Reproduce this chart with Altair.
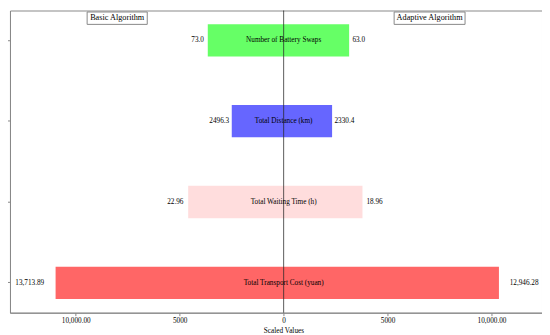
import altair as alt
import pandas as pd

categories = ["Number of Battery Swaps", "Total Distance (km)",
              "Total Waiting Time (h)", "Total Transport Cost (yuan)"]
basic_values = [73.0, 2496.3, 22.96, 13713.89]
adaptive_values = [63.0, 2330.4, 18.96, 12946.28]
scale_factors = [50, 1, 200, 0.8]
label_formats = ["{:.1f}", "{:.1f}", "{:.2f}", "{:,.2f}"]
bar_colors = ["#66ff66", "#6666ff", "#ffdddd", "#ff6666"]
x_ticks = [-10000, -5000, 0, 5000, 10000]
x_tick_labels = ["10,000.00", "5000", "0", "5000", "10,000.00"]
panel_titles = ["Basic Algorithm", "Adaptive Algorithm"]
panel_title_x = [-8008, 7021]
panel_box_half = [1446, 1706]

FONT = "Liberation Serif"
FS = 7.3

rows = []
for c, b, a, s, f, col in zip(categories, basic_values, adaptive_values,
                              scale_factors, label_formats, bar_colors):
    rows.append({"category": c, "side": "basic", "value": -b * s,
                 "label_pos": -b * s * 1.05, "label": f.format(b), "color": col})
    rows.append({"category": c, "side": "adaptive", "value": a * s,
                 "label_pos": a * s * 1.05, "label": f.format(a), "color": col})
df = pd.DataFrame(rows)
cat_df = pd.DataFrame({"category": categories, "x": [0] * len(categories)})

xmin = min(df[df.side == "basic"].value) * 1.2
xmax = max(df[df.side == "adaptive"].value) * 1.2

label_expr = ""
for v, t in zip(x_ticks, x_tick_labels):
    label_expr += f"datum.value == {v} ? '{t}' : "
label_expr += "''"

xscale = alt.Scale(domain=[xmin, xmax], nice=False, zero=False)
yscale = alt.Scale(domain=categories, paddingInner=0.6, paddingOuter=0.17)

x_enc = alt.X("value:Q", scale=xscale,
              axis=alt.Axis(values=x_ticks, labelExpr=label_expr, title="Scaled Values",
                            titleX=276, titlePadding=3, grid=False))
y_enc = alt.Y("category:N", scale=yscale,
              axis=alt.Axis(labels=False, title=None, ticks=True, grid=False))

base = alt.Chart(df)

bars = base.mark_bar().encode(
    x=x_enc, y=y_enc, color=alt.Color("color:N", scale=None)
)

left_labels = base.transform_filter(alt.datum.side == "basic").mark_text(
    align="right", baseline="middle", font=FONT, fontSize=FS, color="black"
).encode(x=alt.X("label_pos:Q"), y=alt.Y("category:N"), text="label:N")

right_labels = base.transform_filter(alt.datum.side == "adaptive").mark_text(
    align="left", baseline="middle", font=FONT, fontSize=FS, color="black"
).encode(x=alt.X("label_pos:Q"), y=alt.Y("category:N"), text="label:N")

cat_labels = alt.Chart(cat_df).mark_text(
    align="center", baseline="middle", font=FONT, fontSize=FS, color="black"
).encode(x=alt.X("x:Q"), y=alt.Y("category:N"), text="category:N")

zero_line = alt.Chart(pd.DataFrame({"x": [0]})).mark_rule(
    color="black", opacity=0.65, strokeWidth=1
).encode(x="x:Q")

title_df = pd.DataFrame({
    "title": panel_titles,
    "cx": panel_title_x,
    "x0": [c - h for c, h in zip(panel_title_x, panel_box_half)],
    "x1": [c + h for c, h in zip(panel_title_x, panel_box_half)],
})
title_boxes = alt.Chart(title_df).mark_rect(
    fill="white", stroke="#888888", strokeWidth=1
).encode(x="x0:Q", x2="x1:Q", y=alt.value(1.5), y2=alt.value(14))
title_text = alt.Chart(title_df).mark_text(
    align="center", baseline="middle", font=FONT, fontSize=8.3, color="black"
).encode(x="cx:Q", y=alt.value(8), text="title:N")

chart = alt.layer(
    bars, cat_labels, left_labels, right_labels, zero_line, title_boxes, title_text
).properties(
    width=537, height=305,
    padding={"left": -2, "top": 0, "right": 0, "bottom": 0},
).configure_view(
    stroke="#888888", strokeWidth=1
).configure_axis(
    labelFont=FONT, labelFontSize=FS, labelColor="black",
    titleFont=FONT, titleFontSize=FS, titleColor="black", titleFontWeight="normal",
    domainColor="#888888", tickColor="#888888", tickSize=3, labelPadding=1,
)

chart.save("out.html", embed_options={"renderer": "svg", "actions": False})
